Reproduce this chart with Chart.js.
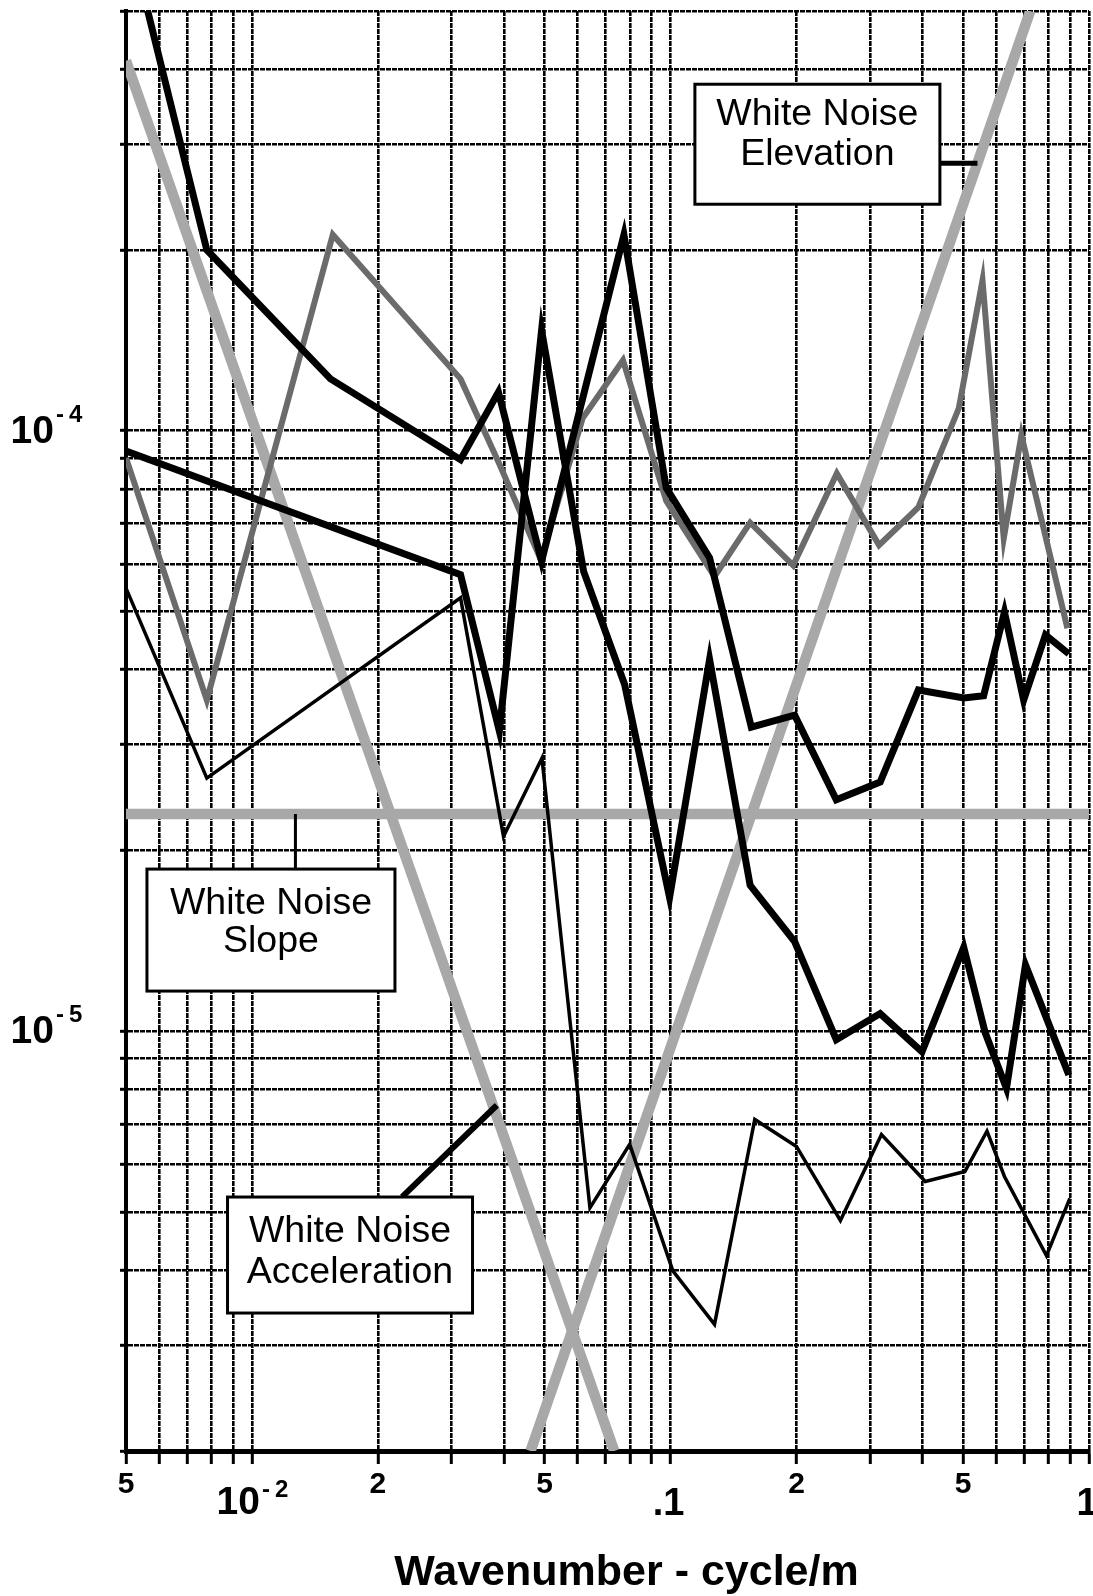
<!DOCTYPE html>
<html>
<head>
<meta charset="utf-8">
<title>Wavenumber spectra</title>
<script src="https://cdn.jsdelivr.net/npm/chart.js@4/dist/chart.umd.min.js"></script>
<style>
  html, body { margin: 0; padding: 0; background: #fff; }
  canvas { display: block; }
</style>
</head>
<body>
<canvas id="spectra" width="1093" height="1596"></canvas>
<script>
// Grid lines: wavenumber (cycle/m) and spectral density
const xGridValues = [0.005, 0.006, 0.007, 0.008, 0.009,
  0.01, 0.02, 0.03, 0.04, 0.05, 0.06, 0.07, 0.08, 0.09,
  0.1, 0.2, 0.3, 0.4, 0.5, 0.6, 0.7, 0.8, 0.9, 1];
const yGridValues = [2e-6, 3e-6, 4e-6, 5e-6, 6e-6, 7e-6, 8e-6, 9e-6,
  1e-5, 2e-5, 3e-5, 4e-5, 5e-5, 6e-5, 7e-5, 8e-5, 9e-5,
  1e-4, 2e-4, 3e-4, 4e-4, 5e-4];

// Labelled x ticks and y decades
const xTickLabels = [
  { value: 0.005, text: '5' }, { value: 0.02, text: '2' }, { value: 0.05, text: '5' },
  { value: 0.2, text: '2' }, { value: 0.5, text: '5' }];
const xDecadeLabels = [
  { value: 0.01, exp: '2' }];
const xPlainLabels = [
  { value: 0.1, text: '.1' }, { value: 1, text: '1' }];
const yDecadeLabels = [
  { value: 1e-4, exp: '4' }, { value: 1e-5, exp: '5' }];

// Measured spectra
const heavyUpperK = [0.005, 0.0078, 0.0154, 0.0315, 0.0388, 0.0492, 0.0774, 0.0977, 0.124,
  0.156, 0.198, 0.249, 0.317, 0.391, 0.502, 0.56, 0.628, 0.698, 0.787, 0.895];
const heavyUpperPSD = [7.0e-4, 2.0e-4, 1.22e-4, 8.95e-5, 1.16e-4, 6.06e-5, 2.12e-4, 8.03e-5, 6.14e-5,
  3.21e-5, 3.36e-5, 2.43e-5, 2.6e-5, 3.70e-5, 3.59e-5, 3.62e-5, 4.99e-5, 3.56e-5, 4.57e-5, 4.25e-5];

const heavyLowerK = [0.005, 0.0315, 0.039, 0.0492, 0.062, 0.0777, 0.0995, 0.124, 0.155,
  0.198, 0.249, 0.317, 0.399, 0.502, 0.565, 0.635, 0.705, 0.895];
const heavyLowerPSD = [9.25e-5, 5.76e-5, 3.16e-5, 1.47e-4, 5.83e-5, 3.78e-5, 1.67e-5, 4.16e-5, 1.75e-5,
  1.41e-5, 9.68e-6, 1.07e-5, 9.24e-6, 1.38e-5, 9.94e-6, 8.03e-6, 1.29e-5, 8.46e-6];

const greyK = [0.005, 0.0078, 0.0156, 0.0315, 0.039, 0.049, 0.0617, 0.077, 0.0977, 0.1274,
  0.155, 0.1964, 0.2497, 0.315, 0.3913, 0.4885, 0.5566, 0.6256, 0.6894, 0.888];
const greyPSD = [9.01e-5, 3.56e-5, 2.12e-4, 1.22e-4, 8.8e-5, 6.1e-5, 1.05e-4, 1.31e-4, 7.64e-5, 5.72e-5,
  7.03e-5, 5.97e-5, 8.49e-5, 6.45e-5, 7.46e-5, 1.09e-4, 1.78e-4, 6.62e-5, 9.83e-5, 4.69e-5];

const thinK = [0.005, 0.0078, 0.0315, 0.0399, 0.0493, 0.0642, 0.0799, 0.1013, 0.1274, 0.159,
  0.2, 0.2547, 0.3192, 0.4063, 0.5052, 0.5705, 0.628, 0.7914, 0.9];
const thinPSD = [5.47e-5, 2.64e-5, 5.27e-5, 2.11e-5, 2.85e-5, 5.08e-6, 6.48e-6, 3.99e-6, 3.25e-6, 7.13e-6,
  6.43e-6, 4.84e-6, 6.73e-6, 5.62e-6, 5.84e-6, 6.82e-6, 5.73e-6, 4.23e-6, 5.27e-6];

// White-noise reference lines
const elevationK = [0.0463, 0.7237];
const elevationPSD = [2e-6, 5e-4];
const accelerationK = [0.005, 0.0734];
const accelerationPSD = [4.13e-4, 2e-6];
const slopeK = [0.005, 1];
const slopePSD = [2.3e-5, 2.3e-5];

const pairs = (ks, vs) => ks.map((k, i) => ({ x: k, y: vs[i] }));

// Callout boxes, anchored in data coordinates
const callouts = [
  { lines: ['White Noise', 'Elevation'], k: 0.2244, psd: 3.0e-4, w: 245, h: 120, textDy: [-19, 21],
    leader: [[0.4393, 2.79e-4], [0.5414, 2.79e-4]], leaderWidth: 5 },
  { lines: ['White Noise', 'Slope'], k: 0.0111, psd: 1.474e-5, w: 248, h: 122, textDy: [-16, 22],
    leader: [[0.0127, 2.3e-5], [0.0127, 1.863e-5]], leaderWidth: 3 },
  { lines: ['White Noise', 'Acceleration'], k: 0.01715, psd: 4.24e-6, w: 245, h: 116, textDy: [-13, 28],
    leader: [[0.02284, 5.30e-6], [0.03846, 7.53e-6]], leaderWidth: 6 }
];

const FONT = '"Liberation Sans", Arial, Helvetica, sans-serif';

const calloutPlugin = {
  id: 'callouts',
  afterDatasetsDraw(chart) {
    const { ctx, scales: { x, y } } = chart;
    ctx.save();
    callouts.forEach(c => {
      ctx.beginPath();
      ctx.strokeStyle = '#000';
      ctx.lineWidth = c.leaderWidth;
      ctx.lineCap = 'butt';
      ctx.moveTo(x.getPixelForValue(c.leader[0][0]), y.getPixelForValue(c.leader[0][1]));
      ctx.lineTo(x.getPixelForValue(c.leader[1][0]), y.getPixelForValue(c.leader[1][1]));
      ctx.stroke();

      const cx = x.getPixelForValue(c.k);
      const cy = y.getPixelForValue(c.psd);
      ctx.fillStyle = '#fff';
      ctx.fillRect(cx - c.w / 2, cy - c.h / 2, c.w, c.h);
      ctx.lineWidth = 3;
      ctx.strokeRect(cx - c.w / 2, cy - c.h / 2, c.w, c.h);
      ctx.fillStyle = '#000';
      ctx.font = '37.5px ' + FONT;
      ctx.textAlign = 'center';
      ctx.textBaseline = 'alphabetic';
      c.lines.forEach((t, i) => ctx.fillText(t, cx, cy + c.textDy[i]));
    });
    ctx.restore();
  }
};

// Tick labels with raised exponents and the axis title
const axisLabelPlugin = {
  id: 'axisLabels',
  afterDraw(chart) {
    const { ctx, scales: { x, y }, chartArea } = chart;
    ctx.save();
    ctx.fillStyle = '#000';
    ctx.textBaseline = 'alphabetic';

    const drawPower = (right10, base, exp, rise) => {
      ctx.font = 'bold 39px ' + FONT;
      ctx.textAlign = 'right';
      ctx.fillText('10', right10, base);
      ctx.font = 'bold 24px ' + FONT;
      ctx.textAlign = 'left';
      ctx.fillText('-', right10 + 2, base - rise);
      ctx.fillText(exp, right10 + 15, base - rise);
    };

    yDecadeLabels.forEach(d => {
      const py = y.getPixelForValue(d.value);
      drawPower(54, py + 12, d.exp, 21);
    });

    const xBase = chartArea.bottom;
    ctx.font = 'bold 30px ' + FONT;
    ctx.textAlign = 'center';
    xTickLabels.forEach(t => {
      ctx.fillText(t.text, x.getPixelForValue(t.value), xBase + 42);
    });
    xDecadeLabels.forEach(d => {
      drawPower(x.getPixelForValue(d.value) + 8, xBase + 63, d.exp, 17);
    });
    ctx.font = 'bold 38px ' + FONT;
    ctx.textAlign = 'center';
    xPlainLabels.forEach(t => {
      ctx.fillText(t.text, x.getPixelForValue(t.value) - 2, xBase + 64);
    });

    ctx.font = 'bold 43px ' + FONT;
    ctx.textAlign = 'center';
    ctx.fillText('Wavenumber - cycle/m', (chartArea.left + chartArea.right) / 2 + 19, xBase + 134);
    ctx.restore();
  }
};

const gridStyle = {
  color: '#000',
  lineWidth: 2.6,
  drawTicks: true,
  tickColor: '#000',
  tickWidth: 3,
  tickBorderDash: []
};

new Chart(document.getElementById('spectra'), {
  type: 'scatter',
  data: {
    datasets: [
      { label: 'heavy upper', data: pairs(heavyUpperK, heavyUpperPSD), borderColor: '#000', borderWidth: 7 },
      { label: 'heavy lower', data: pairs(heavyLowerK, heavyLowerPSD), borderColor: '#000', borderWidth: 7 },
      { label: 'thin', data: pairs(thinK, thinPSD), borderColor: '#000', borderWidth: 3.5 },
      { label: 'grey', data: pairs(greyK, greyPSD), borderColor: '#6b6b6b', borderWidth: 6 },
      { label: 'White Noise Elevation', data: pairs(elevationK, elevationPSD), borderColor: '#a8a8a8', borderWidth: 10.5 },
      { label: 'White Noise Acceleration', data: pairs(accelerationK, accelerationPSD), borderColor: '#a8a8a8', borderWidth: 10.5 },
      { label: 'White Noise Slope', data: pairs(slopeK, slopePSD), borderColor: '#a8a8a8', borderWidth: 10.5 }
    ].map(d => Object.assign({ showLine: true, pointRadius: 0, tension: 0, borderJoinStyle: 'miter', fill: false }, d))
  },
  options: {
    responsive: false,
    animation: false,
    devicePixelRatio: 1,
    layout: { padding: { left: 120, top: 11, right: 4, bottom: 132 } },
    plugins: { legend: { display: false }, tooltip: { enabled: false } },
    scales: {
      x: {
        type: 'logarithmic', position: 'bottom', min: 0.005, max: 1,
        afterBuildTicks: s => { s.ticks = xGridValues.map(v => ({ value: v })); },
        ticks: { display: false },
        grid: Object.assign({}, gridStyle, { tickLength: 13 }),
        border: { display: true, color: '#000', width: 5, dash: [5, 1] }
      },
      y: {
        type: 'logarithmic', position: 'left', min: 2e-6, max: 5e-4,
        afterBuildTicks: s => { s.ticks = yGridValues.map(v => ({ value: v })); },
        ticks: { display: false },
        grid: Object.assign({}, gridStyle, { tickLength: 6 }),
        border: { display: true, color: '#000', width: 4, dash: [5, 1] }
      }
    }
  },
  plugins: [calloutPlugin, axisLabelPlugin]
});
</script>
</body>
</html>
